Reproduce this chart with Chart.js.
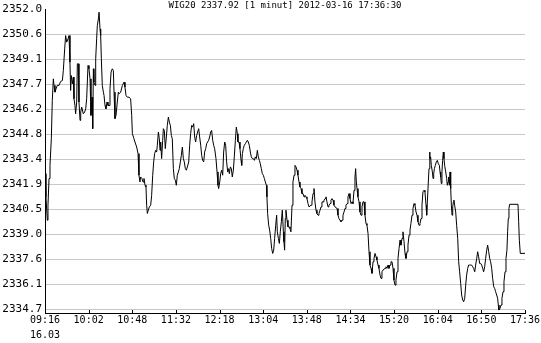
<!DOCTYPE html>
<html>
<head>
<meta charset="utf-8">
<script src="https://cdn.jsdelivr.net/npm/chart.js@4/dist/chart.umd.min.js"></script>
<style>
  body { margin: 0; background: #fff; }
  canvas { display: block; }
</style>
</head>
<body>
<canvas id="myChart" width="541" height="343"></canvas>
<script>
const titleText = 'WIG20 2337.92 [1 minut] 2012-03-16 17:36:30'
const xTickLabels = ['09:16', '10:02', '10:48', '11:32', '12:18', '13:04', '13:48', '14:34', '15:20', '16:04', '16:50', '17:36']
const xDateLabel = '16.03'
const yTickLabels = ['2352.0', '2350.6', '2349.1', '2347.7', '2346.2', '2344.8', '2343.4', '2341.9', '2340.5', '2339.0', '2337.6', '2336.1', '2334.7']
const sessionMinutes = 500

// minutes after 09:16
const minutes = [
  0, 1, 2.4, 3.1, 4.2, 5.2, 6.6, 7.6, 8.7, 9.4,
  10.4, 11.5, 12.8, 14.6, 16.3, 18.1, 19.1, 20.5, 21.5, 22.6,
  24, 25, 26, 26.7, 27.4, 28.5, 29.5, 30.2, 31.2, 31.9,
  33, 33.7, 34.7, 35.4, 36.5, 37.2, 38.2, 39.9, 41.3, 42.4,
  43.4, 44.8, 45.8, 46.9, 47.9, 49, 49.7, 50.4, 51, 52.1,
  52.8, 53.8, 54.5, 55.6, 56.3, 57.3, 58, 58.7, 59.7, 60.8,
  61.5, 62.5, 63.5, 64.6, 65.6, 66.7, 67.7, 68.8, 70.1, 71.2,
  71.9, 72.9, 74, 75.3, 76.4, 77.4, 78.8, 80.6, 82.3, 83.3,
  84.4, 85.8, 87.5, 89.2, 90.3, 91, 92.7, 93.7, 95.5, 96.9,
  97.9, 98.9, 99.6, 101,
  102.1, 103.1, 104.2, 105.2, 105.9, 106.6, 107.6, 108.7, 110.1, 111.1,
  112.2, 113.2, 114.2, 115.3, 116.3, 117, 118.1, 119.1, 119.8, 120.5,
  121.5, 122.6, 123.3, 124.3, 125.3, 126.4, 127.4, 128.5, 129.5, 130.6,
  131.6, 132.6, 133.7, 134.7, 135.8, 136.8, 137.8, 138.9, 139.9, 141,
  142, 143.1, 144.1, 145.1, 146.2, 147.2, 148.3, 149.7, 150.7, 151.7,
  152.8, 153.8, 154.9, 155.9, 156.9, 158, 159, 160.1, 161.1, 162.2,
  163.2, 164.2, 165.3, 166.3, 167.4, 168.4, 169.4, 170.5, 171.5, 172.6,
  173.6, 174.7, 175.7, 176.7, 178.1, 179.2, 180.2, 180.9, 182, 183,
  184, 185.1, 186.1, 187.2, 188.2, 189.2, 190.3, 191.3, 192, 193.1,
  194.1, 195.1, 196.2, 197.2, 198.3, 199.3, 200.4,
  201, 202.1, 203.1, 204.2, 204.9, 205.6, 206.6, 207.6, 208.7, 209.7,
  210.8, 211.8, 212.8, 213.9, 214.9, 216, 217, 218.1, 219.1, 220.1,
  221.2, 222.2, 223.3, 224.3, 225.3, 226.4, 227.4, 228.5, 229.5, 230.6,
  231.2, 231.9, 233, 234, 235.1, 236.1, 237.2, 238.2, 239.2, 240.3,
  241.3, 242, 243.1, 244.1, 245.1, 246.2, 247.2, 248.3, 248.9, 249.6,
  250.3, 251, 252.1, 253.1, 254.2, 255.2, 256.2, 257.3, 258.3, 259.4,
  260.4, 261.5, 262.5, 263.5, 264.6, 265.6, 266.7, 267.7, 268.8, 269.8,
  270.8, 271.9, 272.9, 274, 275, 276, 277.1, 278.1, 279.2, 280.2,
  281.2, 282.3, 283.3, 284.4, 285.4, 286.5, 287.5, 288.5, 289.6, 290.6,
  291.7, 292.7, 293.7, 294.8, 295.8, 296.9, 297.9, 299, 300,
  301, 302.1, 303.1, 304.2, 305.2, 306.2, 307.3, 308.3, 309.4, 310.4,
  311.5, 312.5, 313.5, 314.6, 315.6, 316.7, 317.7, 318.8, 319.8, 320.8,
  321.9, 322.9, 323.6, 324.3, 325, 326, 327.1, 328.1, 329.2, 330.2,
  331.2, 332.3, 333.3, 334.4, 335.4, 336.5, 337.5, 338.5, 339.6, 340.6,
  341.7, 342.7, 343.8, 344.8, 345.8, 346.9, 347.9, 349, 350, 351,
  352.1, 353.1, 354.2, 355.2, 356.2, 357.3, 358.3, 359.4, 360.4, 361.5,
  362.5, 363.5, 364.6, 365.6, 366.7, 367.7, 368.8, 369.8, 370.8, 371.9,
  372.9, 374, 375, 376, 377.1, 378.1, 379.2, 380.2, 381.2, 382.3,
  383.3, 384.4, 385.4, 386.5, 387.5, 388.5, 389.6, 390.6, 391.7, 392.7,
  393.7, 394.8, 395.8, 396.9, 397.6, 398.3, 399.3, 400, 400.7,
  401, 401.7, 402.4, 403.5, 404.2, 404.9, 405.6, 406.6, 407.6, 408.7,
  409.7, 410.8, 411.5, 412.2, 412.8, 413.5, 414.2, 414.9, 415.6, 416.3,
  417.4, 418.4, 419.1, 419.8, 420.5, 421.2, 421.9, 422.6, 423.3, 424,
  424.7, 425.4, 426, 426.7, 427.8, 428.8, 429.9, 430.9, 431.9, 433,
  434, 435.1, 436.1, 437.2, 438.2, 439.2, 440.3, 441.3, 442.4, 443.4,
  444.4, 445.5, 446.5, 447.6, 448.6, 449.7, 450.7, 451.7, 452.8, 453.8,
  454.9, 455.9, 456.9, 458, 459, 460.1, 461.1, 462.2, 463.2, 464.2,
  465.3, 466.3, 467.4, 468.4, 469.4, 470.5, 471.5, 472.2, 472.9, 474,
  475, 476, 477.1, 478.1, 479.2, 480.2, 481.2, 481.9, 482.6, 483.3,
  484, 492.7, 493.4, 494.1, 495.1, 500
]

const prices = [
  2342.52, 2341.18, 2339.83, 2340.7, 2342.24, 2343.0, 2344.54, 2346.75, 2348.0, 2347.62,
  2347.23, 2347.42, 2347.62, 2347.62, 2347.85, 2347.9, 2348.48, 2349.73, 2350.5, 2350.12,
  2350.31, 2350.5, 2348.96, 2347.33, 2348.19, 2347.71, 2348.1, 2346.85, 2346.46, 2345.98,
  2346.66, 2348.87, 2348.87, 2346.66, 2345.6, 2346.08, 2346.37, 2345.98, 2346.08, 2346.27,
  2346.85, 2348.77, 2348.58, 2348.0, 2345.89, 2346.94, 2345.12, 2348.58, 2347.81, 2347.62,
  2349.16, 2350.31, 2351.08, 2351.46, 2351.85, 2350.88, 2350.5, 2349.16, 2347.62, 2347.23,
  2347.04, 2346.46, 2346.27, 2346.66, 2346.46, 2346.46, 2347.42, 2348.39, 2348.58, 2348.48,
  2347.23, 2345.7, 2345.89, 2346.66, 2347.23, 2347.14, 2347.23, 2347.62, 2347.81, 2347.52,
  2347.04, 2346.94, 2346.94, 2346.85, 2345.89, 2344.83, 2344.54, 2344.35, 2344.06, 2343.68,
  2342.43, 2342.04, 2342.33, 2342.24,
  2342.04, 2342.24, 2341.85, 2341.75, 2340.7, 2340.22, 2340.41, 2340.6, 2340.7, 2341.27,
  2342.43, 2343.2, 2343.68, 2343.87, 2343.77, 2344.16, 2344.93, 2344.54, 2343.87, 2344.35,
  2343.39, 2344.45, 2345.12, 2345.02, 2343.97, 2344.64, 2345.31, 2345.79, 2345.5, 2345.31,
  2344.73, 2344.54, 2342.81, 2342.24, 2342.14, 2341.85, 2342.43, 2342.62, 2342.81, 2343.2,
  2343.58, 2344.06, 2343.39, 2343.2, 2342.81, 2342.72, 2342.91, 2343.2, 2344.16, 2344.83,
  2345.31, 2345.21, 2345.41, 2344.64, 2344.35, 2344.73, 2344.93, 2345.12, 2344.64, 2344.16,
  2343.58, 2343.29, 2343.2, 2343.77, 2343.97, 2344.25, 2344.35, 2344.45, 2344.64, 2344.93,
  2345.02, 2344.45, 2344.16, 2343.97, 2343.39, 2342.62, 2341.85, 2341.66, 2342.04, 2342.52,
  2342.72, 2342.43, 2343.77, 2344.35, 2344.16, 2343.2, 2342.62, 2342.81, 2342.52, 2342.91,
  2342.81, 2342.33, 2342.72, 2343.49, 2344.45, 2345.21, 2344.83,
  2344.35, 2344.35, 2343.97, 2343.29, 2343.0, 2343.68, 2343.97, 2344.16, 2344.25, 2344.35,
  2344.45, 2344.35, 2344.16, 2343.77, 2343.49, 2343.39, 2343.39, 2343.29, 2343.49, 2343.39,
  2343.87, 2343.49, 2343.29, 2343.1, 2342.81, 2342.52, 2342.43, 2342.24, 2342.04, 2341.85,
  2341.18, 2340.22, 2339.54, 2339.26, 2338.78, 2338.2, 2337.91, 2338.1, 2338.78, 2339.54,
  2340.12, 2339.16, 2338.78, 2338.49, 2339.16, 2339.74, 2340.41, 2339.16, 2338.58, 2338.1,
  2339.93, 2340.41, 2339.83, 2339.45, 2339.45, 2339.35, 2339.16, 2340.7, 2342.04, 2342.43,
  2343.0, 2342.91, 2342.72, 2342.43, 2342.04, 2341.75, 2341.66, 2341.37, 2341.37, 2341.18,
  2341.27, 2341.18, 2341.08, 2340.79, 2340.6, 2340.6, 2340.7, 2340.89, 2341.37, 2341.66,
  2340.89, 2340.41, 2340.22, 2340.12, 2340.22, 2340.41, 2340.6, 2340.89, 2340.89, 2340.99,
  2341.08, 2341.18, 2340.89, 2340.6, 2340.7, 2340.79, 2340.99, 2341.08, 2340.99,
  2340.7, 2340.6, 2340.6, 2340.51, 2340.12, 2339.93, 2339.83, 2339.74, 2339.83, 2340.12,
  2340.31, 2340.51, 2340.7, 2340.79, 2341.18, 2341.37, 2341.08, 2340.79, 2340.89, 2340.79,
  2341.56, 2342.33, 2342.81, 2342.04, 2341.66, 2341.18, 2340.89, 2340.31, 2340.12, 2340.6,
  2340.89, 2340.89, 2340.12, 2339.64, 2339.54, 2339.06, 2338.01, 2337.24, 2337.05, 2336.76,
  2337.43, 2337.62, 2337.91, 2337.72, 2337.53, 2337.24, 2337.05, 2336.66, 2336.47, 2336.85,
  2336.95, 2336.95, 2337.05, 2337.14, 2337.05, 2337.24, 2337.05, 2337.24, 2337.43, 2337.43,
  2337.05, 2336.37, 2336.08, 2336.37, 2336.85, 2337.62, 2338.2, 2338.68, 2338.39, 2338.78,
  2339.16, 2338.58, 2337.91, 2337.62, 2338.01, 2338.39, 2338.97, 2339.26, 2339.64, 2340.12,
  2340.51, 2340.79, 2340.7, 2340.31, 2340.12, 2339.74, 2339.54, 2339.64, 2339.93, 2340.7,
  2341.47, 2341.56, 2341.47, 2340.7, 2340.12, 2340.89, 2342.04, 2342.81, 2343.77,
  2343.39, 2343.49, 2343.0, 2342.62, 2342.24, 2342.52, 2342.81, 2343.0, 2343.2, 2343.29,
  2343.1, 2343.0, 2342.62, 2342.33, 2341.95, 2342.62, 2343.29, 2343.77, 2343.39, 2343.0,
  2342.62, 2342.24, 2341.85, 2342.04, 2342.33, 2341.85, 2342.62, 2341.66, 2340.7, 2340.12,
  2340.6, 2340.89, 2340.99, 2340.7, 2340.31, 2339.54, 2338.78, 2337.43, 2336.85, 2336.18,
  2335.51, 2335.22, 2335.12, 2335.32, 2336.08, 2336.66, 2337.05, 2337.24, 2337.24, 2337.24,
  2337.24, 2337.14, 2337.05, 2336.85, 2337.24, 2337.62, 2338.01, 2337.72, 2337.33, 2337.33,
  2337.24, 2337.05, 2336.85, 2337.14, 2337.62, 2338.1, 2338.39, 2338.01, 2337.62, 2337.43,
  2337.05, 2336.47, 2335.99, 2335.89, 2335.7, 2335.51, 2335.32, 2334.93, 2334.64, 2334.74,
  2334.93, 2335.32, 2335.7, 2336.28, 2336.85, 2337.62, 2338.1, 2339.16, 2339.93, 2340.51,
  2340.75, 2340.75, 2339.74, 2338.68, 2337.91, 2337.92
]

const yTop = parseFloat(yTickLabels[0])
const yBottom = parseFloat(yTickLabels[yTickLabels.length - 1])
const yStep = (yTop - yBottom) / (yTickLabels.length - 1)

const points = minutes.map((m, i) => ({ x: m, y: prices[i] }))

// title and the small upward tick marks on the time axis
const extras = {
  id: 'extras',
  afterDraw(chart) {
    const c = chart.ctx
    const area = chart.chartArea
    const xs = chart.scales.x
    c.save()
    c.strokeStyle = '#000'
    c.lineWidth = 1
    c.beginPath()
    for (const t of xs.ticks) {
      const px = Math.round(xs.getPixelForValue(t.value)) + 0.5
      c.moveTo(px, area.bottom - 3)
      c.lineTo(px, area.bottom)
    }
    c.stroke()
    c.fillStyle = '#000'
    c.font = '9px "DejaVu Sans Mono"'
    c.textAlign = 'center'
    c.textBaseline = 'middle'
    c.fillText(titleText, (area.left + area.right) / 2, 6)
    c.restore()
  }
}

Chart.defaults.font.family = '"DejaVu Sans Mono", monospace'
Chart.defaults.color = '#000'

const ctx = document.getElementById('myChart')
const chart = new Chart(ctx, {
  type: 'line',
  data: {
    datasets: [{
      data: points,
      borderColor: '#000',
      borderWidth: 1,
      pointRadius: 0,
      tension: 0,
      fill: false
    }]
  },
  options: {
    responsive: false,
    animation: false,
    layout: { padding: { top: 8, right: 16, left: 0, bottom: 0 } },
    plugins: { legend: { display: false }, tooltip: { enabled: false } },
    scales: {
      x: {
        type: 'linear',
        min: 0,
        max: sessionMinutes,
        afterBuildTicks: s => {
          s.ticks = xTickLabels.map((_, i) => ({ value: i * sessionMinutes / (xTickLabels.length - 1) }))
        },
        afterFit: s => { s.height = 30; s.paddingLeft = 0; s.paddingRight = 0 },
        grid: { display: false, drawTicks: false },
        border: { display: true, color: '#000', width: 1 },
        ticks: {
          autoSkip: false,
          maxRotation: 0,
          padding: 0,
          font: { size: 10, lineHeight: 1.5 },
          callback: (v, i) => i === 0 ? [xTickLabels[0], xDateLabel] : xTickLabels[i]
        }
      },
      y: {
        min: yBottom - 0.23,
        max: yTop,
        afterBuildTicks: s => {
          s.ticks = yTickLabels.map((_, i) => ({ value: yTop - i * yStep }))
        },
        afterFit: s => { s.width = 45 },
        grid: {
          drawTicks: false,
          color: c => c.index === 0 ? 'rgba(0,0,0,0)' : '#c8c8c8',
          lineWidth: 1
        },
        border: { display: true, color: '#000', width: 1 },
        ticks: {
          autoSkip: false,
          padding: 3,
          font: { size: 11 },
          callback: (v, i) => yTickLabels[i]
        }
      }
    }
  },
  plugins: [extras]
})
</script>
</body>
</html>
